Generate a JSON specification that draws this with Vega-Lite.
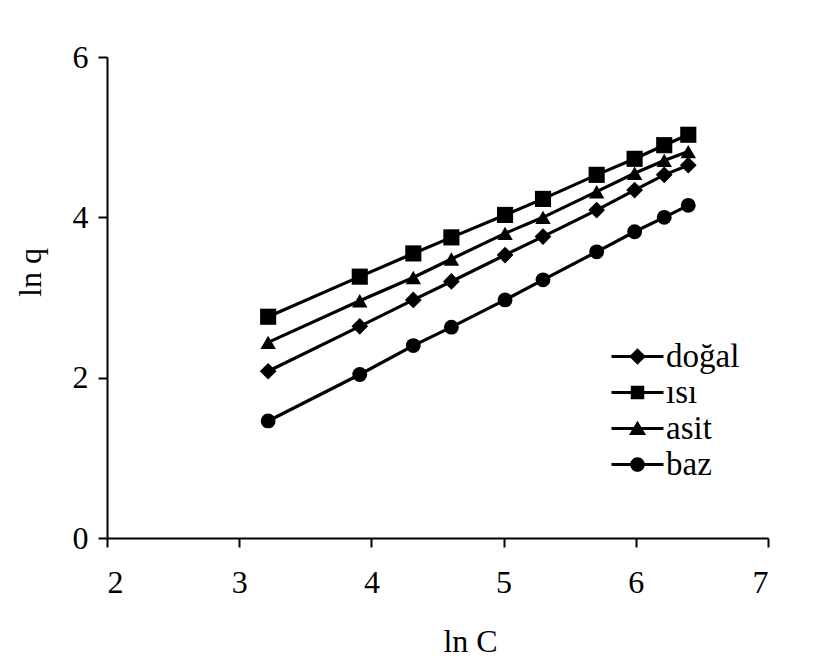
{
  "$schema": "https://vega.github.io/schema/vega-lite/v6.json",
  "autosize": "none",
  "width": 661,
  "height": 481,
  "padding": {"left": 107, "top": 57, "right": 46, "bottom": 130},
  "background": "white",
  "config": {
    "view": {"stroke": null},
    "font": "Liberation Serif",
    "axis": {
      "grid": false,
      "domainColor": "black",
      "domainWidth": 2,
      "tickColor": "black",
      "tickWidth": 2,
      "tickSize": 9,
      "labelFont": "Liberation Serif",
      "labelFontSize": 32,
      "labelColor": "black",
      "titleFont": "Liberation Serif",
      "titleFontSize": 32,
      "titleFontWeight": "normal",
      "titleColor": "black"
    }
  },
  "data": {
    "values": [
      {"series": "doğal", "lnC": 3.219, "lnq": 2.08},
      {"series": "doğal", "lnC": 3.912, "lnq": 2.64},
      {"series": "doğal", "lnC": 4.317, "lnq": 2.97},
      {"series": "doğal", "lnC": 4.605, "lnq": 3.2},
      {"series": "doğal", "lnC": 5.011, "lnq": 3.53},
      {"series": "doğal", "lnC": 5.298, "lnq": 3.76},
      {"series": "doğal", "lnC": 5.704, "lnq": 4.09},
      {"series": "doğal", "lnC": 5.991, "lnq": 4.34},
      {"series": "doğal", "lnC": 6.215, "lnq": 4.53},
      {"series": "doğal", "lnC": 6.397, "lnq": 4.65},
      {"series": "ısı", "lnC": 3.219, "lnq": 2.76},
      {"series": "ısı", "lnC": 3.912, "lnq": 3.26},
      {"series": "ısı", "lnC": 4.317, "lnq": 3.55},
      {"series": "ısı", "lnC": 4.605, "lnq": 3.75},
      {"series": "ısı", "lnC": 5.011, "lnq": 4.03},
      {"series": "ısı", "lnC": 5.298, "lnq": 4.23},
      {"series": "ısı", "lnC": 5.704, "lnq": 4.53},
      {"series": "ısı", "lnC": 5.991, "lnq": 4.73},
      {"series": "ısı", "lnC": 6.215, "lnq": 4.9},
      {"series": "ısı", "lnC": 6.397, "lnq": 5.03},
      {"series": "asit", "lnC": 3.219, "lnq": 2.44},
      {"series": "asit", "lnC": 3.912, "lnq": 2.96},
      {"series": "asit", "lnC": 4.317, "lnq": 3.25},
      {"series": "asit", "lnC": 4.605, "lnq": 3.48},
      {"series": "asit", "lnC": 5.011, "lnq": 3.8},
      {"series": "asit", "lnC": 5.298, "lnq": 4.0},
      {"series": "asit", "lnC": 5.704, "lnq": 4.32},
      {"series": "asit", "lnC": 5.991, "lnq": 4.55},
      {"series": "asit", "lnC": 6.215, "lnq": 4.71},
      {"series": "asit", "lnC": 6.397, "lnq": 4.82},
      {"series": "baz", "lnC": 3.219, "lnq": 1.46},
      {"series": "baz", "lnC": 3.912, "lnq": 2.04},
      {"series": "baz", "lnC": 4.317, "lnq": 2.4},
      {"series": "baz", "lnC": 4.605, "lnq": 2.63},
      {"series": "baz", "lnC": 5.011, "lnq": 2.97},
      {"series": "baz", "lnC": 5.298, "lnq": 3.22},
      {"series": "baz", "lnC": 5.704, "lnq": 3.57},
      {"series": "baz", "lnC": 5.991, "lnq": 3.82},
      {"series": "baz", "lnC": 6.215, "lnq": 4.0},
      {"series": "baz", "lnC": 6.397, "lnq": 4.15}
    ]
  },
  "encoding": {
    "x": {
      "field": "lnC", "type": "quantitative",
      "scale": {"domain": [2, 7], "nice": false, "zero": false},
      "axis": {"values": [2, 3, 4, 5, 6, 7], "title": "ln C", "labelPadding": 20,
               "titleX": 363, "titleY": 103, "titleBaseline": "middle", "titleAnchor": "middle"}
    },
    "y": {
      "field": "lnq", "type": "quantitative",
      "scale": {"domain": [0, 6], "nice": false},
      "axis": {"values": [0, 2, 4, 6], "title": "ln q", "labelPadding": 10,
               "titleX": -77, "titleY": 215, "titleBaseline": "middle", "titleAnchor": "middle", "titleAngle": -90}
    }
  },
  "layer": [
    {
      "mark": {"type": "line", "color": "black", "strokeWidth": 3.2},
      "encoding": {"detail": {"field": "series"}}
    },
    {
      "mark": {"type": "point", "filled": true, "color": "black", "opacity": 1},
      "encoding": {
        "shape": {
          "field": "series", "type": "nominal",
          "scale": {"domain": ["doğal", "ısı", "asit", "baz"], "range": ["diamond", "square", "triangle-up", "circle"]},
          "legend": null
        },
        "size": {
          "field": "series", "type": "nominal",
          "scale": {"domain": ["doğal", "ısı", "asit", "baz"], "range": [280, 220, 240, 240]},
          "legend": null
        }
      }
    },
    {
      "transform": [{"filter": "false"}],
      "mark": {"type": "point", "filled": true, "color": "black", "opacity": 1},
      "encoding": {
        "shape": {
          "field": "series", "type": "nominal",
          "scale": {
            "domain": ["doğal", "ısı", "asit", "baz"],
            "range": [
              "M-2,-0.12H2V0.12H-2Z M0,-0.64L0.64,0L0,0.64L-0.64,0Z",
              "M-2,-0.12H2V0.12H-2Z M-0.52,-0.52H0.52V0.52H-0.52Z",
              "M-2,-0.12H2V0.12H-2Z M0,-0.6L0.66,0.5H-0.66Z",
              "M-2,-0.12H2V0.12H-2Z M-0.56,0A0.56,0.56 0 1,1 0.56,0A0.56,0.56 0 1,1 -0.56,0Z"
            ]
          },
          "legend": {
            "title": null,
            "orient": "none",
            "legendX": 514,
            "legendY": 283,
            "padding": 0,
            "symbolSize": 676,
            "symbolFillColor": "black",
            "symbolStrokeColor": "black",
            "symbolStrokeWidth": 0,
            "symbolOpacity": 1,
            "labelOffset": 12,
            "rowPadding": 2,
            "labelFont": "Liberation Serif",
            "labelFontSize": 33,
            "labelColor": "black"
          }
        }
      }
    }
  ],
  "resolve": {"scale": {"shape": "independent"}}
}
